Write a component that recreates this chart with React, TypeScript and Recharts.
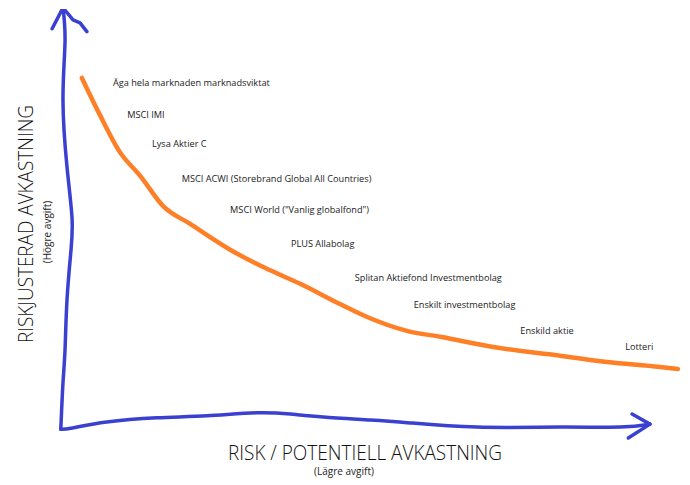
import React from 'react';
import { ComposedChart, Line, Scatter, XAxis, YAxis } from 'recharts';

const riskCurve = [
  { x: 3.4, y: 83.6 },
  { x: 6.3, y: 74.8 },
  { x: 9.5, y: 66.0 },
  { x: 12.8, y: 60.3 },
  { x: 16.5, y: 53.1 },
  { x: 20.8, y: 48.9 },
  { x: 27.3, y: 42.7 },
  { x: 32.9, y: 38.4 },
  { x: 38.6, y: 34.6 },
  { x: 45.0, y: 29.8 },
  { x: 49.4, y: 26.7 },
  { x: 55.8, y: 23.4 },
  { x: 61.2, y: 22.0 },
  { x: 70.8, y: 19.3 },
  { x: 78.4, y: 17.9 },
  { x: 88.1, y: 16.0 },
  { x: 96.6, y: 14.8 },
  { x: 99.5, y: 14.3 },
];

const products = [
  'Äga hela marknaden marknadsviktat',
  'MSCI IMI',
  'Lysa Aktier C',
  'MSCI ACWI (Storebrand Global All Countries)',
  'MSCI World ("Vanlig globalfond")',
  'PLUS Allabolag',
  'Splitan Aktiefond Investmentbolag',
  'Enskilt investmentbolag',
  'Enskild aktie',
  'Lotteri',
];
const productRisk = [8.4, 10.7, 14.7, 19.5, 27.3, 37.1, 47.4, 56.9, 74.1, 91.0];
const productReturn = [82.4, 75.0, 67.9, 59.6, 52.4, 44.3, 36.2, 29.6, 23.4, 19.6];

// the blue pen strokes for the axes
const yAxisStroke = [
  { x: 0, y: 0 },
  { x: 0.35, y: 11.0 },
  { x: 0.68, y: 18.9 },
  { x: 1.0, y: 30.8 },
  { x: 1.65, y: 42.7 },
  { x: 1.8, y: 50.5 },
  { x: 1.0, y: 62.4 },
  { x: 0.35, y: 78.4 },
  { x: 0.68, y: 92.2 },
  { x: 0.35, y: 100.3 },
];
const yArrowHead = [
  { x: -1.4, y: 95.3 },
  { x: 0.35, y: 100.3 },
  { x: 1.97, y: 97.4 },
  { x: 3.1, y: 96.7 },
  { x: 4.2, y: 94.6 },
];
const xAxisStroke = [
  { x: 0, y: 0 },
  { x: 1.9, y: 0.3 },
  { x: 7.4, y: 1.7 },
  { x: 15.5, y: 2.7 },
  { x: 23.6, y: 3.2 },
  { x: 31.6, y: 3.9 },
  { x: 37.0, y: 3.6 },
  { x: 42.3, y: 2.9 },
  { x: 49.9, y: 2.2 },
  { x: 56.3, y: 1.5 },
  { x: 67.1, y: 0.5 },
  { x: 80.5, y: 0.5 },
  { x: 90.2, y: 0.5 },
  { x: 95.0, y: 1.2 },
];
const xArrowHead = [
  { x: 92.1, y: 3.6 },
  { x: 95.0, y: 1.2 },
  { x: 91.5, y: -2.1 },
];

const labelData = products.map((name, i) => ({ name, x: productRisk[i], y: productReturn[i] }));

const PEN_BLUE = '#3a40cf';
const ORANGE = '#ff7f27';
const FONT = '"Open Sans", "Noto Sans", sans-serif';

const ProductLabel = (props: any) => (
  <text
    x={props.cx}
    y={props.cy}
    dominantBaseline="central"
    fontSize={9.2}
    fill="#222"
    fontFamily={FONT}
  >
    {props.payload.name}
  </text>
);

export default function App() {
  return (
    <div style={{ position: 'absolute', left: 0, top: 0, background: '#fff' }}>
      <ComposedChart
        width={690}
        height={485}
        margin={{ top: 9, right: 9, left: 36, bottom: 39 }}
      >
        <XAxis dataKey="x" type="number" domain={[-4, 100]} hide allowDataOverflow />
        <YAxis dataKey="y" type="number" domain={[-4, 100]} hide allowDataOverflow />

        {/* axes */}
        <Line data={yAxisStroke} dataKey="y" type="natural" stroke={PEN_BLUE} strokeWidth={3.5}
          strokeLinecap="round" strokeLinejoin="round" dot={false} isAnimationActive={false} />
        <Line data={yArrowHead} dataKey="y" type="linear" stroke={PEN_BLUE} strokeWidth={3.5}
          strokeLinecap="round" strokeLinejoin="round" dot={false} isAnimationActive={false} />
        <Line data={xAxisStroke} dataKey="y" type="natural" stroke={PEN_BLUE} strokeWidth={3.5}
          strokeLinecap="round" strokeLinejoin="round" dot={false} isAnimationActive={false} />
        <Line data={xArrowHead} dataKey="y" type="linear" stroke={PEN_BLUE} strokeWidth={3.5}
          strokeLinecap="round" strokeLinejoin="round" dot={false} isAnimationActive={false} />

        {/* the risk / return curve */}
        <Line data={riskCurve} dataKey="y" type="monotone" stroke={ORANGE} strokeWidth={4.5}
          strokeLinecap="round" strokeLinejoin="round" dot={false} isAnimationActive={false} />

        <Scatter data={labelData} dataKey="y" shape={ProductLabel} isAnimationActive={false} />

        {/* axis titles */}
        <text x={365} y={452} textAnchor="middle" dominantBaseline="central" fontSize={20}
          fontWeight={300} fontFamily={FONT} fill="#111" textLength={274} lengthAdjust="spacingAndGlyphs">
          RISK / POTENTIELL AVKASTNING
        </text>
        <text x={344} y={471} textAnchor="middle" dominantBaseline="central" fontSize={10}
          fontFamily={FONT} fill="#222">
          (Lägre avgift)
        </text>
        <text x={25} y={224} textAnchor="middle" dominantBaseline="central" fontSize={20}
          fontWeight={300} fontFamily={FONT} fill="#111" transform="rotate(-90 25 224)"
          textLength={238} lengthAdjust="spacingAndGlyphs">
          RISKJUSTERAD AVKASTNING
        </text>
        <text x={47} y={232} textAnchor="middle" dominantBaseline="central" fontSize={10}
          fontFamily={FONT} fill="#222" transform="rotate(-90 47 232)">
          (Högre avgift)
        </text>
      </ComposedChart>
    </div>
  );
}
